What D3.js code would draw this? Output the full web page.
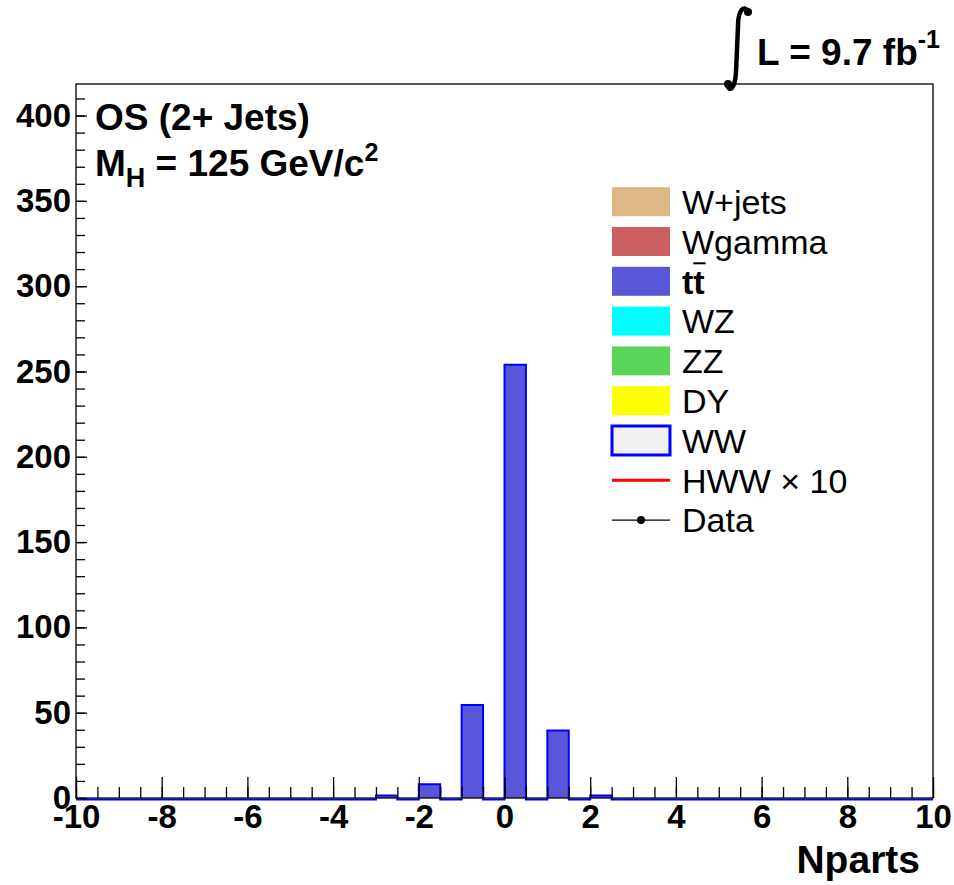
<!DOCTYPE html>
<html><head><meta charset="utf-8">
<script src="https://cdn.jsdelivr.net/npm/d3@7"></script>
<style>
body{margin:0;background:#fff;}
text{font-family:"Liberation Sans",Arial,Helvetica,sans-serif;}
</style></head>
<body>
<svg id="c" width="954" height="885"></svg>
<script>
// ---- data ----
const binWidth = 0.5;
const binLow = d3.range(-10, 10, binWidth);           // 40 bins from -10 to 10
const wjets  = [0,0,0,0,0,0,0,0,0,0, 0,0,0,0,0,0,0,0,0,0, 0,0,0,0,0,0,0,0,0,0, 0,0,0,0,0,0,0,0,0,0];
const wgamma = [0,0,0,0,0,0,0,0,0,0, 0,0,0,0,0,0,0,0,0,0, 0,0,0,0,0,0,0,0,0,0, 0,0,0,0,0,0,0,0,0,0];
const ttbar  = [0,0,0,0,0,0,0,0,0,0, 0,0,0,0,1.5,0,8,0,54.5,0, 254,0,39.5,0,1.5,0,0,0,0,0, 0,0,0,0,0,0,0,0,0,0];
const wz     = [0,0,0,0,0,0,0,0,0,0, 0,0,0,0,0,0,0,0,0,0, 0,0,0,0,0,0,0,0,0,0, 0,0,0,0,0,0,0,0,0,0];
const zz     = [0,0,0,0,0,0,0,0,0,0, 0,0,0,0,0,0,0,0,0,0, 0,0,0,0,0,0,0,0,0,0, 0,0,0,0,0,0,0,0,0,0];
const dy     = [0,0,0,0,0,0,0,0,0,0, 0,0,0,0,0,0,0,0,0,0, 0,0,0,0,0,0,0,0,0,0, 0,0,0,0,0,0,0,0,0,0];
const ww     = [0,0,0,0,0,0,0,0,0,0, 0,0,0,0,0,0,0,0,0,0, 0,0,0,0,0,0,0,0,0,0, 0,0,0,0,0,0,0,0,0,0];
const xTicks = [-10,-8,-6,-4,-2,0,2,4,6,8,10];
const yTicks = [0,50,100,150,200,250,300,350,400];
const legendNames = ["W+jets","Wgamma","tt","WZ","ZZ","DY","WW","HWW \u00d7 10","Data"];
const legendColors = ["#dcb886","#cd5e60","#5a56d8","#00ffff","#5ad55a","#ffff00","#f0f0f0","#ff0000","#000000"];

// ---- layout ----
const svg = d3.select("#c");
const L = 76, R = 933, T = 84, B = 798;
const x = d3.scaleLinear().domain([-10, 10]).range([L, R]);
const y = d3.scaleLinear().domain([0, 418.5]).range([B, T]);

// stack (bottom to top): WW, DY, ZZ, WZ, ttbar, Wgamma, W+jets
const seriesBottomUp = [
  {v: ww, c: "#f0f0f0"}, {v: dy, c: "#ffff00"}, {v: zz, c: "#5ad55a"},
  {v: wz, c: "#00ffff"}, {v: ttbar, c: "#5a56d8"}, {v: wgamma, c: "#cd5e60"}, {v: wjets, c: "#dcb886"}
];
const base = binLow.map(() => 0);
const gBars = svg.append("g");
seriesBottomUp.forEach(s => {
  binLow.forEach((lo, i) => {
    const v = s.v[i];
    if (v > 0) {
      gBars.append("rect")
        .attr("x", x(lo)).attr("width", x(lo + binWidth) - x(lo))
        .attr("y", y(base[i] + v)).attr("height", y(base[i]) - y(base[i] + v))
        .attr("fill", s.c);
    }
    base[i] += v;
  });
});
// outline of the stacked total (step line)
let p = d3.path();
binLow.forEach((lo, i) => {
  const yy = y(base[i]) + (base[i] === 0 ? 1.5 : 0);
  if (i === 0) p.moveTo(x(lo), yy); else p.lineTo(x(lo), yy);
  p.lineTo(x(lo + binWidth), yy);
});
svg.append("path").attr("d", p.toString()).attr("fill", "none")
  .attr("stroke", "#0000ff").attr("stroke-width", 2);

// ---- axes ----
const fontAx = "bold 33px 'Liberation Sans', Arial, sans-serif";
const gx = svg.append("g").attr("transform", `translate(0,${B})`);
gx.call(d3.axisBottom(x).tickValues(d3.range(-10, 10.01, 0.5)).tickSizeInner(-11).tickSizeOuter(0).tickFormat(""));
const gx2 = svg.append("g").attr("transform", `translate(0,${B})`);
gx2.call(d3.axisBottom(x).tickValues(xTicks).tickSizeInner(-21).tickSizeOuter(0).tickPadding(7).tickFormat(d3.format("d")));
const gy = svg.append("g").attr("transform", `translate(${L},0)`);
gy.call(d3.axisLeft(y).tickValues(d3.range(0, 411, 10)).tickSizeInner(-9).tickSizeOuter(0).tickFormat(""));
const gy2 = svg.append("g").attr("transform", `translate(${L},0)`);
gy2.call(d3.axisLeft(y).tickValues(yTicks).tickSizeInner(-11).tickSizeOuter(0).tickPadding(5).tickFormat(d3.format("d")));
[gx, gx2, gy, gy2].forEach(g => {
  g.select(".domain").remove();
  g.selectAll(".tick line").attr("stroke", "#000").attr("stroke-width", 1.3);
  g.selectAll(".tick text").style("font", fontAx).attr("fill", "#000");
});
gx2.selectAll(".tick text").text(d => d < 0 ? "-" + Math.abs(d) : d);

// frame
svg.append("rect").attr("x", L).attr("y", T).attr("width", R - L).attr("height", B - T)
  .attr("fill", "none").attr("stroke", "#000").attr("stroke-width", 1.3);

// axis title
svg.append("text").attr("x", 920).attr("y", 873).attr("text-anchor", "end")
  .style("font", "bold 39px 'Liberation Sans', Arial, sans-serif").text("Nparts");

// ---- labels ----
const big = "bold 37px 'Liberation Sans', Arial, sans-serif";
svg.append("text").attr("x", 95).attr("y", 130).style("font", big).text("OS (2+ Jets)");
const mh = svg.append("text").attr("x", 95).attr("y", 176).style("font", big);
mh.append("tspan").text("M");
mh.append("tspan").attr("dy", 11).style("font-size", "27px").text("H");
mh.append("tspan").attr("dy", -11).text(" = 125 GeV/c");
mh.append("tspan").attr("dy", -15).style("font-size", "25px").text("2");

// luminosity
const lum = svg.append("text").attr("x", 757).attr("y", 65).style("font", big);
lum.append("tspan").text("L = 9.7 fb");
lum.append("tspan").attr("dy", -17).style("font-size", "25px").text("-1");
svg.append("path").attr("d", "M749,12 C744,4 738,10 738,26 L736,72 C735,90 729,92 727,85")
  .attr("fill", "none").attr("stroke", "#000").attr("stroke-width", 4.5);
svg.append("circle").attr("cx", 748).attr("cy", 12).attr("r", 4).attr("fill", "#000");
svg.append("circle").attr("cx", 728).attr("cy", 84).attr("r", 4).attr("fill", "#000");

// ---- legend ----
const lg = svg.append("g");
const ly0 = 201.7, ldy = 39.8, bx = 612, bw = 58, bh = 29;
legendNames.forEach((name, i) => {
  const cy = ly0 + i * ldy;
  if (i < 7) {
    lg.append("rect").attr("x", bx).attr("y", cy - bh / 2).attr("width", bw).attr("height", bh)
      .attr("fill", legendColors[i])
      .attr("stroke", i === 6 ? "#0000ff" : "none").attr("stroke-width", i === 6 ? 3 : 0);
  } else if (i === 7) {
    lg.append("line").attr("x1", bx).attr("x2", bx + bw).attr("y1", cy).attr("y2", cy)
      .attr("stroke", legendColors[i]).attr("stroke-width", 3);
  } else {
    lg.append("line").attr("x1", bx).attr("x2", bx + bw).attr("y1", cy).attr("y2", cy)
      .attr("stroke", "#000").attr("stroke-width", 1.3);
    lg.append("circle").attr("cx", bx + bw / 2).attr("cy", cy).attr("r", 4).attr("fill", "#000");
  }
  const t = lg.append("text").attr("x", 682).attr("y", cy).attr("dy", "0.36em")
    .style("font", (name === "tt" ? "bold " : "") + "34px 'Liberation Sans', Arial, sans-serif").text(name);
  if (name === "tt") {
    // bar over second t
    const w = t.node().getComputedTextLength();
    lg.append("line").attr("x1", 682 + w / 2).attr("x2", 682 + w + 1)
      .attr("y1", cy - 18).attr("y2", cy - 18).attr("stroke", "#000").attr("stroke-width", 2);
  }
});
</script>
</body></html>
